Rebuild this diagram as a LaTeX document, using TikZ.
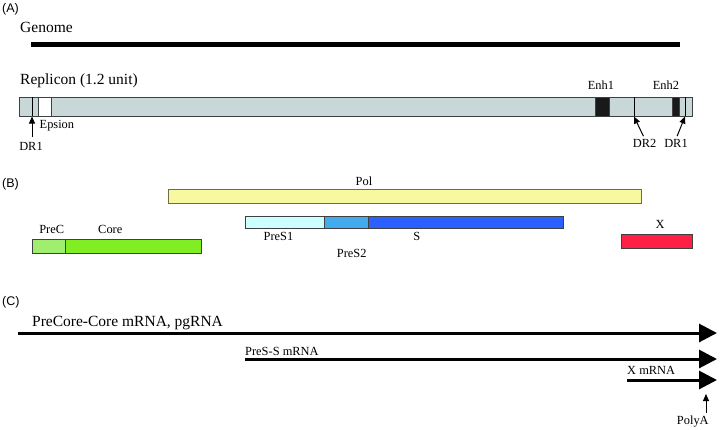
\documentclass[tikz,border=0pt]{standalone}
\usepackage{fontspec}
\setmainfont{Liberation Serif}
\newfontfamily\labsans{Liberation Sans}
\usetikzlibrary{arrows.meta}
\definecolor{repl}{HTML}{C8D8D8}
\definecolor{polfill}{HTML}{F8F8A0}
\definecolor{polline}{HTML}{6E6E40}
\definecolor{preone}{HTML}{CCFFFF}
\definecolor{pretwo}{HTML}{44AAEE}
\definecolor{sfill}{HTML}{2B5FFF}
\definecolor{xfill}{HTML}{FF2046}
\definecolor{precfill}{HTML}{A0EE70}
\definecolor{corefill}{HTML}{80EE22}
\begin{document}
\begin{tikzpicture}[x=1pt,y=-1pt,
  big/.style={font=\fontsize{15.5}{18}\selectfont,inner sep=0,anchor=base west},
  small/.style={font=\fontsize{12.4}{14}\selectfont,inner sep=0,anchor=base},
  panel/.style={font=\labsans\fontsize{12.5}{14}\selectfont,inner sep=0,anchor=base west},
  gene/.style={draw=black!75,line width=0.8pt},
  ptr/.style={line width=1pt,-{Triangle[length=7pt,width=6pt]}},
  rna/.style={line width=3pt,-{Triangle[length=18pt,width=18pt]}}]
\useasboundingbox (0,0) rectangle (720,429);

% ---------- (A)
\node[panel] (pa) at (2,12.5) {(A)};
\node[big] (genome) at (20,32.3) {Genome};
\draw[line width=5pt] (31,44) -- (680,44);
\node[big] (replicon) at (20,84) {Replicon (1.2 unit)};
\draw[gene,fill=repl] (19,97) rectangle (692,116);
\draw[gene,fill=white] (38.7,97) rectangle (51.7,116);
\draw[line width=1pt] (32,97) -- (32,116);
\draw[gene,fill=black!90] (595,97) rectangle (609,116);
\draw[line width=1pt] (634,97) -- (634,116);
\draw[gene,fill=black!90] (672,97) rectangle (679,116);
\draw[line width=1pt] (685,97) -- (685,116);
\node[small,anchor=base west] (epsion) at (39.5,128.3) {Epsion};
\node[small] (dra) at (31,150) {DR1};
\node[small] (enha) at (601,89.3) {Enh1};
\node[small] (enhb) at (666,89.3) {Enh2};
\node[small] (drb) at (644.7,147.3) {DR2};
\node[small] (drc) at (676,147.3) {DR1};
\coordinate (dratip) at (32,116.5);
\coordinate (drbtip) at (634,116.5);
\coordinate (drctip) at (685,116.5);
\draw[ptr] (32,137) -- (dratip);
\draw[ptr,shorten <=3pt] (drb.north) -- (drbtip);
\draw[ptr,shorten <=3pt] (drc.north) -- (drctip);

% ---------- (B)
\node[panel] (pb) at (2,187.5) {(B)};
\draw[draw=polline,line width=0.8pt,fill=polfill] (168,189) rectangle (641,203);
\node[small] (pol) at (364,185.7) {Pol};
\draw[gene,fill=precfill] (32,239) rectangle (65,253);
\draw[gene,fill=corefill] (65,239) rectangle (201,253);
\node[small] (prec) at (51.7,233.3) {PreC};
\node[small] (core) at (110.3,233.3) {Core};
\draw[gene,fill=preone] (245,216) rectangle (324,228);
\draw[gene,fill=pretwo] (324,216) rectangle (368,228);
\draw[gene,fill=sfill] (368,216) rectangle (563,228);
\node[small] (pres1) at (278.5,240) {PreS1};
\node[small] (sgene) at (416.7,240) {S};
\node[small] (pres2) at (351.7,257.7) {PreS2};
\draw[gene,fill=xfill] (621,234) rectangle (692,248);
\node[small] (xgene) at (660,228.3) {X};

% ---------- (C)
\node[panel] (pc) at (2,305) {(C)};
\node[big] (pgrna) at (32,326.7) {PreCore-Core mRNA, pgRNA};
\coordinate (ra) at (18,333);
\coordinate (rae) at (717,333);
\draw[rna] (ra) -- (rae);
\node[small,anchor=base west] (presrna) at (245,355.3) {PreS-S mRNA};
\coordinate (rb) at (245,359);
\coordinate (rbe) at (717,359);
\draw[rna] (rb) -- (rbe);
\node[small,anchor=base west] (xrna) at (627,374.3) {X mRNA};
\coordinate (rc) at (627,380);
\coordinate (rce) at (717,380);
\draw[rna] (rc) -- (rce);
\node[small] (polya) at (692.8,424.5) {PolyA};
\coordinate (polyatip) at (706,394);
\draw[ptr] (706,413) -- (polyatip);
\end{tikzpicture}
\end{document}
